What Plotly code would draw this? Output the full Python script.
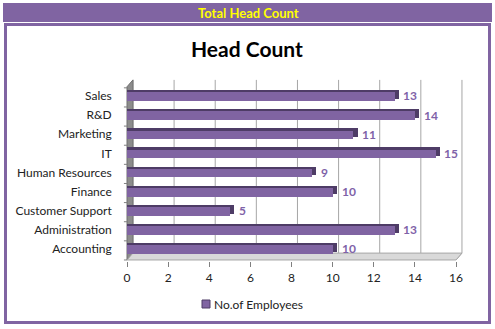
import plotly.graph_objects as go

# Head count per department (bottom to top on the chart)
departments = ["Accounting", "Administration", "Customer Support", "Finance",
               "Human Resources", "IT", "Marketing", "R&D", "Sales"]
employees = [10, 13, 5, 10, 9, 15, 11, 14, 13]
x_ticks = [0, 2, 4, 6, 8, 10, 12, 14, 16]
series_name = "No.of Employees"

W, H = 495, 329
PURPLE = "#8064A2"
DARK = "#4E3C66"
LABEL = "#7F62A8"
GRID = "#A6A6A6"
FONT = "Lato"

# depth offset of the 3-D back wall, in axis units
DX, DY = 0.29, 0.36
X0, X1 = -0.4, 16.5
Y0, Y1 = -0.65, 8.95
FLOOR = -0.575


def px(x):
    return x / W


def py(y):
    return 1 - y / H


fig = go.Figure()

# dark top / end face of every bar (depth effect)
fig.add_trace(go.Bar(
    y=departments, x=[v + 0.2 for v in employees], orientation="h",
    width=0.46, offset=-0.14, marker=dict(color=DARK, line=dict(width=0)),
    showlegend=False, hoverinfo="skip"))
# front face of the bars
fig.add_trace(go.Bar(
    y=departments, x=employees, orientation="h", name=series_name,
    width=0.45, offset=-0.25, marker=dict(color=PURPLE, line=dict(width=0)),
    showlegend=False))

shapes = []
# header band and frame
shapes.append(dict(type="rect", xref="paper", yref="paper", x0=px(3), x1=px(492),
                   y0=py(22), y1=py(3), fillcolor=PURPLE, line=dict(width=0), layer="below"))
shapes.append(dict(type="rect", xref="paper", yref="paper", x0=px(5.5), x1=px(489.5),
                   y0=py(322.5), y1=py(24.5), fillcolor="white",
                   line=dict(color=PURPLE, width=3), layer="below"))

# back wall grid lines
for t in x_ticks:
    shapes.append(dict(type="line", xref="x", yref="y", x0=t + DX, x1=t + DX,
                       y0=FLOOR + DY, y1=8.84, line=dict(color=GRID, width=1), layer="below"))
    # diagonal floor lines
    shapes.append(dict(type="line", xref="x", yref="y", x0=t, x1=t + DX,
                       y0=FLOOR, y1=FLOOR + DY, line=dict(color=GRID, width=1), layer="below"))
# left wall
shapes.append(dict(type="path", xref="x", yref="y",
                   path=f"M 0 {FLOOR} L {DX} {FLOOR + DY} L {DX} 8.84 L 0 {8.84 - DY} Z",
                   fillcolor="#8C8C8C", line=dict(color="#6E6E6E", width=1), layer="below"))
# floor
shapes.append(dict(type="path", xref="x", yref="y",
                   path=f"M 0 {FLOOR} L 16 {FLOOR} L {16 + DX} {FLOOR + DY} L {DX} {FLOOR + DY} Z",
                   fillcolor="#D9D9D9", line=dict(color=GRID, width=1), layer="below"))
# y-axis tick marks between categories
for i in range(len(departments) + 1):
    yy = i - 0.5 - 0.075
    shapes.append(dict(type="line", xref="x", yref="y", x0=-0.15, x1=0,
                       y0=yy, y1=yy, line=dict(color="#808080", width=1)))
# legend swatch
shapes.append(dict(type="rect", xref="paper", yref="paper", x0=px(202), x1=px(210),
                   y0=py(308), y1=py(300), fillcolor=PURPLE, line=dict(color=DARK, width=1)))

annotations = [
    dict(text="<b>Total Head Count</b>", x=px(248), y=py(13), xref="paper", yref="paper",
         xanchor="center", yanchor="middle",
         showarrow=False, font=dict(family=FONT, size=13, color="#FFFF00")),
    dict(text="<b>Head Count</b>", x=px(247), y=py(48), xref="paper", yref="paper",
         xanchor="center", yanchor="middle",
         showarrow=False, font=dict(family=FONT, size=21, color="black")),
    dict(text=series_name, x=px(212), y=py(304), xref="paper", yref="paper",
         xanchor="left", yanchor="middle",
         showarrow=False, font=dict(family=FONT, size=12, color="#222222")),
]
for d, v in zip(departments, employees):
    annotations.append(dict(text=f"<b>{v}</b>", x=v, y=d, xref="x", yref="y",
                            xanchor="left", yanchor="middle", xshift=7, showarrow=False,
                            font=dict(family=FONT, size=12, color=LABEL)))

fig.update_layout(
    width=W, height=H, margin=dict(l=0, r=0, t=0, b=0),
    paper_bgcolor="white", plot_bgcolor="rgba(0,0,0,0)",
    barmode="overlay", bargap=0,
    font=dict(family=FONT, size=12, color="#222222"),
    xaxis=dict(domain=[px(127 + X0 * 20.5625), px(127 + X1 * 20.5625)], range=[X0, X1],
               tickvals=x_ticks, showgrid=False, zeroline=False, showline=False,
               ticks="outside", ticklen=5, tickcolor="#808080", fixedrange=True),
    yaxis=dict(domain=[py(261.4), py(77.8)], range=[Y0, Y1], type="category",
               categoryorder="array", categoryarray=departments,
               showgrid=False, zeroline=False, showline=False, ticks="",
               ticklabelstandoff=6),
    showlegend=False,
    shapes=shapes, annotations=annotations,
)

fig.write_html("out.html")
